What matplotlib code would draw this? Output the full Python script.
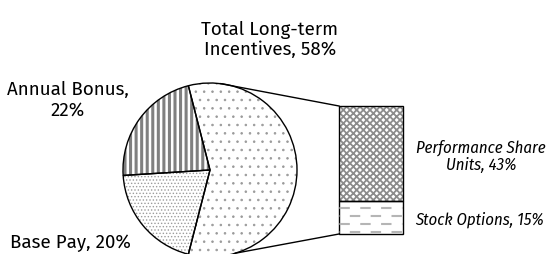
import matplotlib
matplotlib.use('Agg')
import matplotlib.pyplot as plt
import numpy as np

# pie data (share of total pay, %)
pie_labels = ['Total Long-term\nIncentives, 58%', 'Annual Bonus,\n22%', 'Base Pay, 20%']
pie_values = [58, 22, 20]

# breakdown of long-term incentives (%)
bar_labels = ['Stock Options, 15%', 'Performance Share\nUnits, 43%']
bar_values = [15, 43]

plt.rcParams['font.family'] = ['Fira Sans', 'DejaVu Sans']
side_font = ['Fira Sans Condensed', 'DejaVu Sans']


def hatch_it(p, hatch, color, lw):
    p.set_hatch(hatch)
    p.set_edgecolor(color)
    if hasattr(p, 'set_hatch_linewidth'):
        p.set_hatch_linewidth(lw)


fig = plt.figure(figsize=(5.5, 2.54), dpi=100)
ax = fig.add_axes([0, 0, 1, 1])

H = 254
cx, cy, r = 210, H - 170, 87
start = -180 * pie_values[0] / 100.0

# hatched fills, then black outlines on top
wedges, _ = ax.pie(pie_values, center=(cx, cy), radius=r, startangle=start,
                   wedgeprops=dict(facecolor='white', linewidth=0))
hatch_it(wedges[0], '..', '#9a9a9a', 0.6)
hatch_it(wedges[1], '|||', '#808080', 2.2)
hatch_it(wedges[2], '.....', '#9c9c9c', 0.6)
ax.pie(pie_values, center=(cx, cy), radius=r, startangle=start,
       wedgeprops=dict(fill=False, edgecolor='black', linewidth=1.0))

# stacked bar for long-term incentives
scale = 128.0 / sum(bar_values)
bx, bw = 371, 64
bottom = 20
bars = []
for v in bar_values:
    b = ax.bar(bx, v * scale, bw, bottom=bottom, color='white', linewidth=0)[0]
    bars.append(b)
    bottom += v * scale
top = bottom
hatch_it(bars[1], 'xxxxx', '#8c8c8c', 1.3)

# dashed fill for stock options, clipped to its bar
so = bars[0]
y0, y1 = so.get_y(), so.get_y() + so.get_height()
for i, yy in enumerate(np.arange(y0 + 2, y1, 8.0)):
    ln = ax.hlines(yy, bx - bw / 2 - 10, bx + bw / 2 + 10, colors='#b5b5b5',
                   linewidth=1.5, linestyles=(5 * (i % 2), (5, 5)))
    ln.set_clip_path(so)

for b in bars:
    ax.bar(b.get_x() + bw / 2, b.get_height(), bw, bottom=b.get_y(), fill=False,
           edgecolor='black', linewidth=1.0)

# connector lines from pie to bar
for ang, yb in [(83, top), (-73, 20)]:
    a = np.deg2rad(ang)
    ax.plot([cx + r * np.cos(a), bx - bw / 2], [cy + r * np.sin(a), yb],
            color='black', lw=1.0)

# labels (baseline = last line)
fs = 13.5
ax.text(270, H - 55, pie_labels[0], ha='center', va='baseline', fontsize=fs, linespacing=1.15)
ax.text(68, H - 116, pie_labels[1], ha='center', va='baseline', fontsize=fs, linespacing=1.2)
ax.text(10, H - 248, pie_labels[2], ha='left', va='baseline', fontsize=fs)
ax.text(481, H - 170, bar_labels[1], ha='center', va='baseline', fontsize=12,
        style='italic', linespacing=1.1, family=side_font)
ax.text(415, H - 225, bar_labels[0], ha='left', va='baseline', fontsize=12,
        style='italic', family=side_font)

ax.set_xlim(0, 550)
ax.set_ylim(0, H)
ax.set_aspect('auto')
ax.axis('off')

plt.savefig('out.png', dpi=100)
